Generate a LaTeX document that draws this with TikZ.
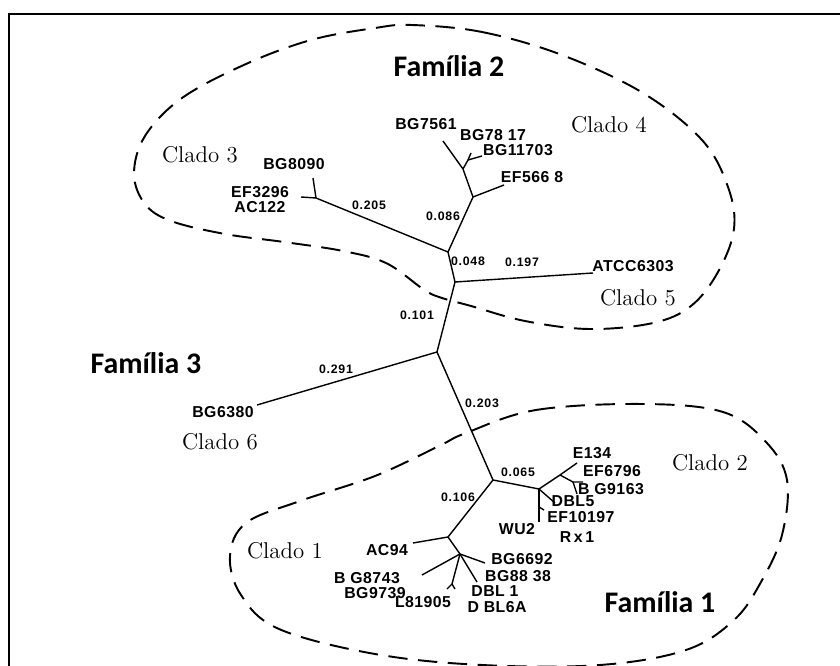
\documentclass[tikz,border=0pt]{standalone}
\usepackage{fontspec}
\newfontfamily\famfont{Carlito}
\newfontfamily\leaffont[LetterSpace=3]{Liberation Sans}
\newfontfamily\lenfont[LetterSpace=6]{Liberation Sans}

\newcommand{\treeLineWidth}{0.8pt}
\newcommand{\blobLineWidth}{1.1pt}
\newcommand{\frameLineWidth}{1.4pt}

\tikzset{
  family/.style={font=\famfont\bfseries\fontsize{17}{19}\selectfont},
  clado/.style={font=\fontsize{13}{15}\selectfont},
  leaf/.style={font=\leaffont\bfseries\fontsize{9}{10}\selectfont, inner sep=0pt},
  blen/.style={font=\lenfont\bfseries\fontsize{7}{8}\selectfont, inner sep=0pt},
  branch/.style={line width=\treeLineWidth, black},
  blob/.style={line width=\blobLineWidth, dash pattern=on 11pt off 6pt},
}

\begin{document}
\begin{tikzpicture}[x=0.02cm, y=-0.02cm]
        \useasboundingbox (0,0) rectangle (840,666);

        % Frame
        \draw[line width=\frameLineWidth] (9,14) rectangle (870,700);

        % Backbone
        \coordinate (c0) at (437,352);
        \coordinate (n1) at (455,282);
        \coordinate (n2) at (448,252);
        \coordinate (n3) at (493,480);

        % Familia 2
        \coordinate (atcc) at (593,273);
        \coordinate (cl3) at (316,198);
        \coordinate (bg8090t) at (313,178);
        \coordinate (ac122t) at (301,197);
        \coordinate (cl4a) at (473,197);
        \coordinate (ef5668t) at (504,185);
        \coordinate (cl4b) at (463,169);
        \coordinate (bg7561t) at (443,141);
        \coordinate (cl4c) at (468,160);
        \coordinate (bg11703t) at (482,156);
        \coordinate (bg7817t) at (471,153);

        % Familia 3
        \coordinate (bg6380t) at (257,405);

        % Familia 1, clado 2
        \coordinate (n4) at (539,489);
        \coordinate (n5) at (560,475);
        \coordinate (e134t) at (577,463);
        \coordinate (ef6796k) at (573,482);
        \coordinate (ef6796t) at (583,482);
        \coordinate (bg9163t) at (577,494);
        \coordinate (dbl5t) at (555,503);
        \coordinate (ef10197k) at (539,507);
        \coordinate (ef10197t) at (544,510);
        \coordinate (wu2t) at (539,522);

        % Familia 1, clado 1
        \coordinate (n6) at (448,537);
        \coordinate (ac94t) at (413,543);
        \coordinate (n7) at (460,554);
        \coordinate (bg6692t) at (485,563);
        \coordinate (dbl1t) at (477,582);
        \coordinate (bg8743t) at (422,575);
        \coordinate (l81905t) at (452,584);
        \coordinate (l81905a) at (447,589);
        \coordinate (l81905b) at (455,589);

        % Branches
        \draw[branch] (c0) -- (bg6380t);
        \draw[branch] (c0) -- (n1);
        \draw[branch] (n1) -- (atcc);
        \draw[branch] (n1) -- (n2);
        \draw[branch] (n2) -- (cl3);
        \draw[branch] (cl3) -- (bg8090t);
        \draw[branch] (cl3) -- (ac122t);
        \draw[branch] (n2) -- (cl4a);
        \draw[branch] (cl4a) -- (ef5668t);
        \draw[branch] (cl4a) -- (cl4b);
        \draw[branch] (cl4b) -- (bg7561t);
        \draw[branch] (cl4b) -- (cl4c);
        \draw[branch] (cl4c) -- (bg11703t);
        \draw[branch] (cl4c) -- (bg7817t);
        \draw[branch] (c0) -- (n3);
        \draw[branch] (n3) -- (n4);
        \draw[branch] (n4) -- (n5);
        \draw[branch] (n5) -- (e134t);
        \draw[branch] (n5) -- (ef6796k) -- (ef6796t);
        \draw[branch] (ef6796k) -- (bg9163t);
        \draw[branch] (n4) -- (dbl5t);
        \draw[branch] (n4) -- (ef10197k) -- (wu2t);
        \draw[branch] (ef10197k) -- (ef10197t);
        \draw[branch] (n3) -- (n6);
        \draw[branch] (n6) -- (ac94t);
        \draw[branch] (n6) -- (n7);
        \draw[branch] (n7) -- (bg6692t);
        \draw[branch] (n7) -- (dbl1t);
        \draw[branch] (n7) -- (bg8743t);
        \draw[branch] (n7) -- (l81905t);
        \draw[branch] (l81905t) -- (l81905a);
        \draw[branch] (l81905t) -- (l81905b);

        % Branch lengths
        \node[blen] (len205) at (369,205) {0.205};
        \node[blen] (len086) at (443,216) {0.086};
        \node[blen] (len048) at (468,261) {0.048};
        \node[blen] (len197) at (522,262) {0.197};
        \node[blen] (len101) at (417,315) {0.101};
        \node[blen] (len291) at (336,369) {0.291};
        \node[blen] (len203) at (482,403) {0.203};
        \node[blen] (len065) at (518,472) {0.065};
        \node[blen] (len106) at (458,497) {0.106};

        % Leaves
        \node[leaf] (bg7561) at (426,124) {BG7561};
        \node[leaf] (bg7817) at (493,135) {BG78 17};
        \node[leaf] (bg11703) at (518,150) {BG11703};
        \node[leaf] (ef5668) at (532,177) {EF566 8};
        \node[leaf] (bg8090) at (294,164) {BG8090};
        \node[leaf] (ef3296) at (260,192) {EF3296};
        \node[leaf] (ac122) at (260,207) {AC122};
        \node[leaf] (atcc6303) at (633,266) {ATCC6303};
        \node[leaf] (bg6380) at (223,412) {BG6380};
        \node[leaf] (e134) at (592,453) {E134};
        \node[leaf] (ef6796) at (612,471) {EF6796};
        \node[leaf] (bg9163) at (611,489) {B G9163};
        \node[leaf] (dbl5) at (573,501) {DBL5};
        \node[leaf] (ef10197) at (581,517) {EF10197};
        \node[leaf] (wu2) at (517,529) {WU2};
        \node[leaf] (rx1) at (577,537) {R\,x\,1};
        \node[leaf] (ac94) at (387,550) {AC94};
        \node[leaf] (bg6692) at (522,559) {BG6692};
        \node[leaf] (bg8838) at (518,576) {BG88 38};
        \node[leaf] (bg8743) at (367,578) {B G8743};
        \node[leaf] (bg9739) at (375,593) {BG9739};
        \node[leaf] (dbl1) at (495,591) {DBL 1};
        \node[leaf] (l81905) at (423,602) {L81905};
        \node[leaf] (dbl6a) at (497,607) {D BL6A};

        % Clados
        \node[clado] (clado1) at (285,551) {Clado 1};
        \node[clado] (clado2) at (710,463) {Clado 2};
        \node[clado] (clado3) at (200,155) {Clado 3};
        \node[clado] (clado4) at (609,125) {Clado 4};
        \node[clado] (clado5) at (638,298) {Clado 5};
        \node[clado] (clado6) at (220,442) {Clado 6};

        % Familias
        \node[family] (familia1) at (660,602) {Família 1};
        \node[family] (familia2) at (449,66) {Família 2};
        \node[family] (familia3) at (146,363) {Família 3};

        % Outlines
        \draw[blob] plot[smooth cycle, tension=0.6] coordinates {(412,25) (482,32) (562,55) (643,93) (702,140) (728,187) (734,229) (718,272) (691,306) (653,323) (589,329) (525,321) (471,306) (439,297) (423,289) (386,263) (343,251) (284,242) (225,234) (171,221) (145,204) (134,174) (145,136) (182,98) (246,64) (311,40) (375,28)};
        \draw[blob] plot[smooth cycle, tension=0.6] coordinates {(466,433) (536,410) (643,404) (723,412) (766,442) (787,480) (782,535) (761,582) (734,620) (686,650) (600,665) (482,665) (375,654) (279,629) (241,595) (230,556) (246,523) (300,501) (375,476) (439,446)};
    \end{tikzpicture}
\end{document}
